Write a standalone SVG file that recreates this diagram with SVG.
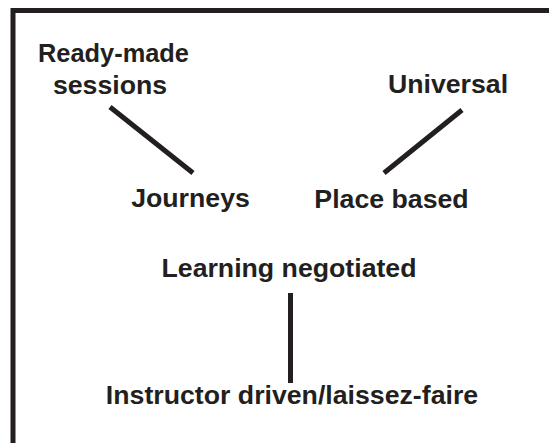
<svg xmlns="http://www.w3.org/2000/svg" width="549" height="443" viewBox="0 0 549 443">
<style>
text{font-family:"Liberation Sans",Arial,sans-serif;font-weight:bold;font-size:26.7px;fill:#231f20;text-anchor:middle}
.c{stroke:#231f20;stroke-width:5;fill:none}
</style>
<rect width="549" height="443" fill="#fff"/>
<path class="c" d="M13 443 V10.5 H549"/>
<g id="ready-made"><text x="113.5" y="62" textLength="151" lengthAdjust="spacingAndGlyphs">Ready-made</text><text x="110" y="94">sessions</text></g>
<g id="universal"><text x="448" y="93">Universal</text></g>
<g id="journeys"><text x="190.5" y="207">Journeys</text></g>
<g id="place-based"><text x="391.5" y="208">Place based</text></g>
<g id="learning-negotiated"><text x="289" y="277">Learning negotiated</text></g>
<g id="instructor-driven"><text x="292" y="404">Instructor driven/laissez-faire</text></g>
<g id="connectors">
<line class="c" x1="110" y1="107" x2="193" y2="173"/>
<line class="c" x1="462" y1="110" x2="384" y2="173"/>
<line class="c" x1="290.5" y1="293" x2="290.5" y2="383"/>
</g>
</svg>
